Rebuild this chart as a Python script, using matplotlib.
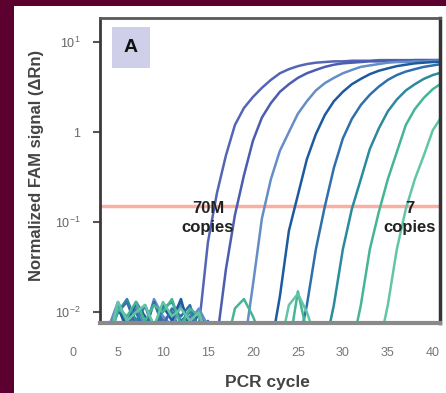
import numpy as np
import matplotlib
matplotlib.use("Agg")
from matplotlib import pyplot as plt
from matplotlib.patches import Rectangle
from matplotlib.transforms import blended_transform_factory

plt.rcParams['font.family'] = ['Liberation Sans', 'DejaVu Sans']
plt.rcParams['mathtext.fontset'] = 'custom'
plt.rcParams['mathtext.rm'] = 'Liberation Sans'

cycles = list(range(3, 42))

# normalized FAM signal per cycle (cycles 3..41), one list per dilution
copies_70M = [0.004, 0.005, 0.012, 0.006, 0.011, 0.007, 0.013, 0.008, 0.010, 0.006,
              0.009, 0.007, 0.06, 0.21, 0.55, 1.2, 1.85, 2.45, 3.1, 3.8,
              4.5, 5.0, 5.4, 5.7, 5.9, 6.0, 6.1, 6.1, 6.2, 6.2,
              6.2, 6.3, 6.3, 6.3, 6.3, 6.3, 6.3, 6.3, 6.3]
copies_7M = [0.004, 0.006, 0.010, 0.013, 0.007, 0.012, 0.006, 0.011, 0.009, 0.013,
             0.007, 0.010, 0.006, 0.005, 0.03, 0.12, 0.33, 0.8, 1.45, 2.1,
             2.8, 3.4, 4.0, 4.5, 4.9, 5.3, 5.6, 5.8, 5.9, 6.0,
             6.1, 6.1, 6.2, 6.2, 6.2, 6.3, 6.3, 6.3, 6.3]
copies_700k = [0.004, 0.007, 0.013, 0.008, 0.012, 0.006, 0.014, 0.009, 0.007, 0.012,
               0.008, 0.011, 0.007, 0.005, 0.004, 0.005, 0.004, 0.02, 0.11, 0.3,
               0.62, 1.0, 1.6, 2.2, 2.9, 3.5, 4.0, 4.5, 4.9, 5.3,
               5.5, 5.7, 5.9, 6.0, 6.0, 6.1, 6.1, 6.2, 6.2]
copies_70k = [0.005, 0.006, 0.011, 0.007, 0.013, 0.009, 0.006, 0.012, 0.008, 0.014,
              0.006, 0.010, 0.005, 0.004, 0.005, 0.004, 0.003, 0.004, 0.003, 0.004,
              0.015, 0.08, 0.2, 0.5, 0.95, 1.55, 2.2, 2.8, 3.4, 3.9,
              4.4, 4.8, 5.1, 5.4, 5.6, 5.8, 5.9, 6.0, 6.0]
copies_7k = [0.004, 0.005, 0.012, 0.008, 0.010, 0.006, 0.013, 0.007, 0.011, 0.009,
             0.012, 0.006, 0.008, 0.005, 0.004, 0.003, 0.004, 0.003, 0.004, 0.005,
             0.004, 0.003, 0.004, 0.012, 0.05, 0.15, 0.4, 0.85, 1.4, 2.0,
             2.6, 3.2, 3.8, 4.3, 4.7, 5.0, 5.3, 5.5, 5.7]
copies_700 = [0.004, 0.006, 0.010, 0.014, 0.008, 0.012, 0.007, 0.011, 0.013, 0.008,
              0.010, 0.007, 0.006, 0.004, 0.003, 0.004, 0.003, 0.004, 0.003, 0.004,
              0.005, 0.004, 0.003, 0.004, 0.005, 0.004, 0.012, 0.05, 0.14, 0.3,
              0.65, 1.1, 1.7, 2.3, 2.9, 3.4, 3.9, 4.3, 4.6]
copies_70 = [0.005, 0.004, 0.011, 0.009, 0.013, 0.008, 0.012, 0.010, 0.014, 0.007,
             0.011, 0.009, 0.006, 0.005, 0.004, 0.011, 0.014, 0.009, 0.005, 0.004,
             0.003, 0.004, 0.017, 0.006, 0.004, 0.003, 0.004, 0.005, 0.004, 0.012,
             0.05, 0.13, 0.3, 0.6, 1.2, 1.8, 2.4, 3.0, 3.5]
copies_7 = [0.004, 0.005, 0.013, 0.008, 0.010, 0.012, 0.007, 0.013, 0.009, 0.011,
            0.008, 0.010, 0.005, 0.004, 0.003, 0.004, 0.003, 0.005, 0.004, 0.003,
            0.004, 0.012, 0.016, 0.010, 0.005, 0.004, 0.003, 0.004, 0.003, 0.004,
            0.005, 0.004, 0.012, 0.05, 0.14, 0.3, 0.55, 1.05, 1.5]

curves = [copies_70M, copies_7M, copies_700k, copies_70k,
          copies_7k, copies_700, copies_70, copies_7]
colors = ['#5565b5', '#4a5db0', '#658dc6', '#1d5a9e',
          '#2f6fab', '#2b8a9e', '#45b596', '#62c6a6']

threshold = 0.15
x_ticks = [0, 5, 10, 15, 20, 25, 30, 35, 40]
y_ticks = [10, 1, 0.1, 0.01]
y_tick_labels = ['10$^{1}$', '1', '10$^{-1}$', '10$^{-2}$']

fig = plt.figure(figsize=(4.46, 3.93), dpi=100)
fig.patch.set_facecolor('#5c0030')

# white panel behind everything
bg = fig.add_axes([14 / 446, 0, 1 - 14 / 446, 1 - 6 / 393], zorder=-5)
bg.set_facecolor('white')
bg.set_axis_off()
bg.add_patch(Rectangle((0, 0), 1, 1, transform=bg.transAxes, facecolor='white',
                       edgecolor='none'))

ax = fig.add_axes([100 / 446, 1 - 323 / 393, 340 / 446, 305 / 393])
ax.set_yscale('log')
ax.set_xlim(3, 40.8)
ax.set_ylim(10 ** -2.12, 10 ** 1.267)

ax.axhline(threshold, color='#f7b0a2', lw=2.5, zorder=1)

for vals, col in zip(curves, colors):
    ax.plot(cycles, vals, color=col, lw=1.8, zorder=2,
            solid_joinstyle='round', solid_capstyle='round')

ax.set_yticks(y_ticks)
ax.set_yticklabels(y_tick_labels)
ax.yaxis.set_minor_locator(matplotlib.ticker.NullLocator())
ax.tick_params(axis='y', length=5, width=1.5, color='#555555', pad=9,
               labelsize=9, labelcolor='#666666')
ax.set_xticks([])

trans = blended_transform_factory(ax.transData, ax.transAxes)
for xt in x_ticks:
    ax.text(xt, -0.098, str(xt), transform=trans, ha='center', va='center',
            fontsize=9, color='#777777', clip_on=False)

for side, col, w in [('left', '#3a3a3a', 2), ('top', '#5a5a5a', 2),
                     ('right', '#333333', 2.5), ('bottom', '#8a8a8a', 3)]:
    ax.spines[side].set_color(col)
    ax.spines[side].set_linewidth(w)

ax.text(15.0, 0.112, '70M\ncopies', ha='center', va='center', fontsize=12,
        fontweight='bold', color='#222222', linespacing=1.3, zorder=5)
ax.text(37.4, 0.112, '7\ncopies', ha='center', va='center', fontsize=12,
        fontweight='bold', color='#222222', linespacing=1.3, zorder=5)

ax.add_patch(Rectangle((0.035, 0.836), 0.112, 0.134, transform=ax.transAxes,
                       facecolor='#cfcfea', edgecolor='none', zorder=4))
ax.text(0.091, 0.903, 'A', transform=ax.transAxes, ha='center', va='center',
        fontsize=14, fontweight='bold', color='#111111', zorder=5)

fig.text(37 / 446, 1 - 165 / 393, 'Normalized FAM signal (ΔRn)', rotation=90,
         ha='center', va='center', fontsize=12, fontweight='bold', color='#444444')
fig.text(267 / 446, 1 - 383 / 393, 'PCR cycle', ha='center', va='center',
         fontsize=12.5, fontweight='bold', color='#444444')

fig.savefig('out.png', dpi=100, facecolor=fig.get_facecolor())
